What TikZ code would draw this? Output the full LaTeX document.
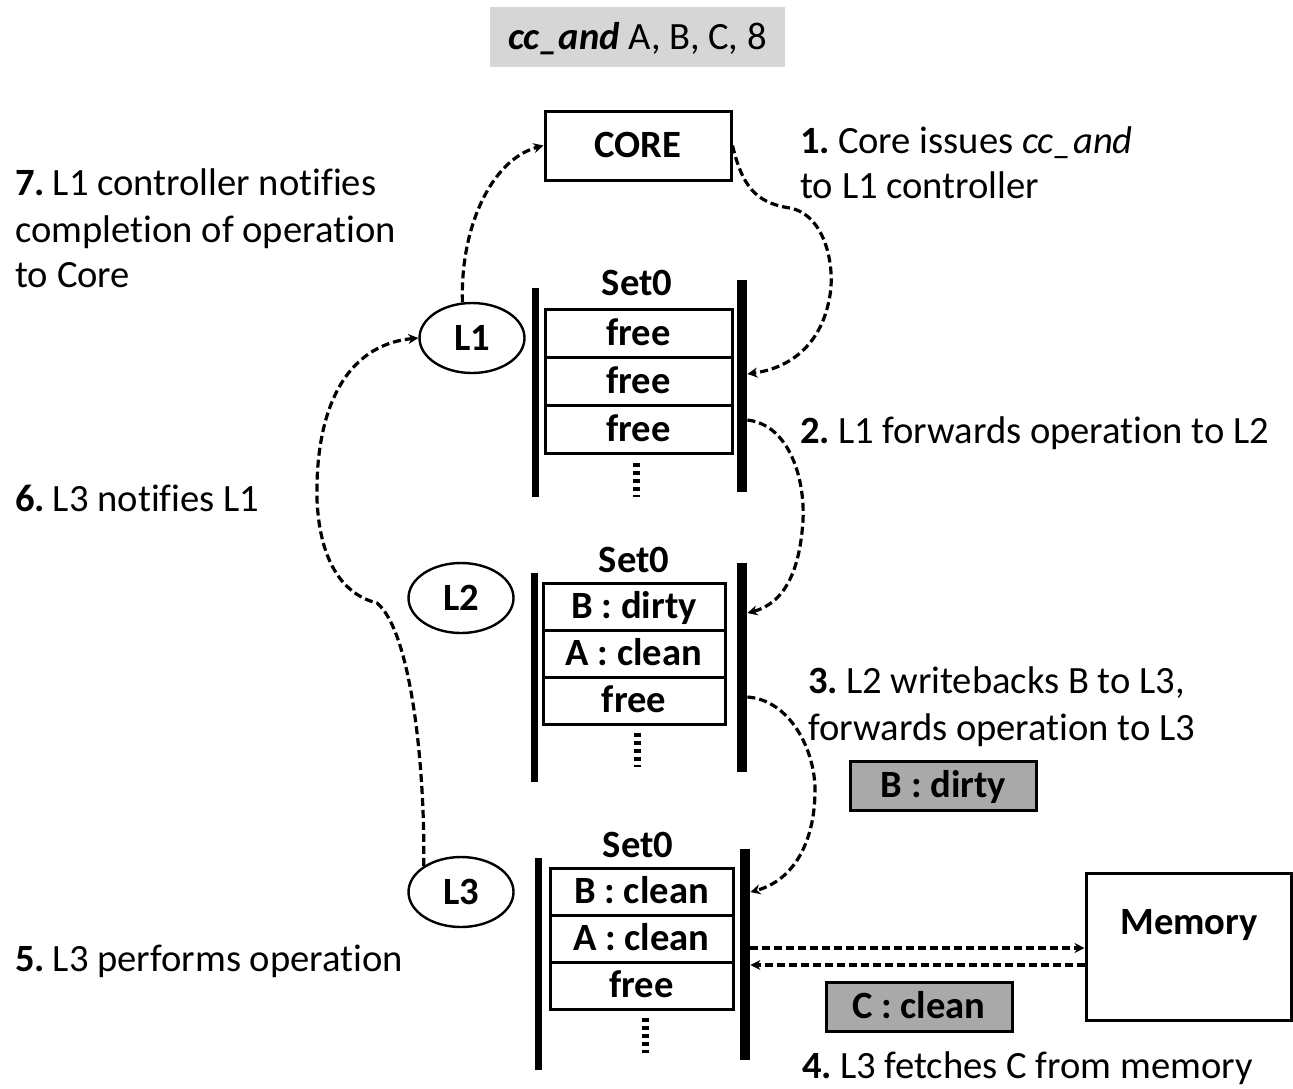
\documentclass[tikz,border=0pt]{standalone}
\usepackage{fontspec}
\setmainfont{Carlito}[Ligatures=NoCommon]
\usetikzlibrary{shapes.geometric,arrows.meta}

\definecolor{cmdgray}{HTML}{D6D6D6}
\definecolor{taggray}{HTML}{A9A9A9}
\newcommand\figfont{\fontsize{19.3}{23}\selectfont}
\newcommand\stepno[1]{\textbf{#1}\hspace{0.2em}}

\begin{document}
\begin{tikzpicture}[x=0.5pt,y=-0.5pt,
  txt/.style={font=\figfont, inner sep=0, anchor=base west},
  lbl/.style={font=\figfont\bfseries, inner sep=0},
  cell/.style={draw, line width=1.5pt, inner sep=0, font=\figfont\bfseries,
    text height=14pt, text depth=2pt},
  bar/.style={fill=black, draw=none, inner sep=0, minimum width=#1},
  lvl/.style={ellipse, draw, line width=1.2pt, minimum width=52.5pt, minimum height=35pt,
    inner sep=0, font=\figfont\bfseries},
  flow/.style={line width=1.6pt, dash pattern=on 4pt off 2pt, -{Stealth[length=5pt,width=5pt]}},
  dots/.style={line width=3.5pt, dash pattern=on 2pt off 2pt},
  tag/.style={draw, line width=1.5pt, fill=taggray, inner sep=0,
    font=\figfont\bfseries, text height=14pt, text depth=2pt},
  box/.style={draw, line width=1.5pt, inner sep=0}
]
\useasboundingbox (0,0) rectangle (1293,1088);

% instruction banner
\node[fill=cmdgray, minimum width=147.5pt, minimum height=30pt, inner sep=0,
  font=\figfont, text height=14pt, text depth=2pt] (cmd) at (637.5,37) {\textbf{\textit{cc\_and}} A, B, C, 8};

% core
\node[box, minimum width=93pt, minimum height=34.5pt, font=\figfont\bfseries,
  text height=14pt, text depth=2pt] (core) at (638,145.5) {CORE};

% ---------------- L1 ----------------
\node[lvl] (l1) at (472,338) {L1};
\node[lbl, anchor=base] (l1set) at (637,295) {Set0};
\node[bar=3.5pt, minimum height=104.5pt] (l1L) at (535,392.5) {};
\node[bar=5pt, minimum height=106pt] (l1R) at (742,386) {};
\node[cell, minimum width=93.5pt, minimum height=24pt] (l1a) at (638.5,333) {free};
\node[cell, minimum width=93.5pt, minimum height=24pt] (l1b) at (638.5,381) {free};
\node[cell, minimum width=93.5pt, minimum height=24pt] (l1c) at (638.5,429) {free};
\coordinate (l1d0) at (636,463);
\coordinate (l1d1) at (636,497);
\draw[dots] (l1d0) -- (l1d1);

% ---------------- L2 ----------------
\node[lvl] (l2) at (461,598) {L2};
\node[lbl, anchor=base] (l2set) at (634,572) {Set0};
\node[bar=3.5pt, minimum height=104.5pt] (l2L) at (534,677.5) {};
\node[bar=5pt, minimum height=104.5pt] (l2R) at (742,667.5) {};
\node[cell, minimum width=91pt, minimum height=23.5pt] (l2a) at (634,606.5) {B : dirty};
\node[cell, minimum width=91pt, minimum height=23.5pt] (l2b) at (634,653.5) {A : clean};
\node[cell, minimum width=91pt, minimum height=23.5pt] (l2c) at (634,700.5) {free};
\coordinate (l2d0) at (637,733);
\coordinate (l2d1) at (637,767);
\draw[dots] (l2d0) -- (l2d1);

% ---------------- L3 ----------------
\node[lvl] (l3) at (461,892) {L3};
\node[lbl, anchor=base] (l3set) at (638,857) {Set0};
\node[bar=3.5pt, minimum height=106pt] (l3L) at (538,964) {};
\node[bar=5pt, minimum height=105.5pt] (l3R) at (745,954.5) {};
\node[cell, minimum width=91.5pt, minimum height=23.5pt] (l3a) at (641.5,891.5) {B : clean};
\node[cell, minimum width=91.5pt, minimum height=23.5pt] (l3b) at (641.5,938.5) {A : clean};
\node[cell, minimum width=91.5pt, minimum height=23.5pt] (l3c) at (641.5,985.5) {free};
\coordinate (l3d0) at (645,1018);
\coordinate (l3d1) at (645,1053);
\draw[dots] (l3d0) -- (l3d1);

% memory and transferred blocks
\node[box, minimum width=102.5pt, minimum height=73.5pt] (mem) at (1188.5,946.5) {};
\node[lbl] (memtxt) at (1189,925) {Memory};
\node[tag, minimum width=93pt, minimum height=24.5pt] (tagb) at (943.5,785.5) {B : dirty};
\node[tag, minimum width=93pt, minimum height=24.5pt] (tagc) at (919,1006.5) {C : clean};

% step descriptions
\node[txt] (s1a) at (800,153) {\stepno{1.}Core issues \textit{cc\_and}};
\node[txt] (s1b) at (800,198) {to L1 controller};
\node[txt] (s2) at (800,443) {\stepno{2.}L1 forwards operation to L2};
\node[txt] (s3a) at (808,693) {\stepno{3.}L2 writebacks B to L3,};
\node[txt] (s3b) at (808,740) {forwards operation to L3};
\node[txt] (s4) at (802,1078) {\stepno{4.}L3 fetches C from memory};
\node[txt] (s5) at (15,971) {\stepno{5.}L3 performs operation};
\node[txt] (s6) at (15,511) {\stepno{6.}L3 notifies L1};
\node[txt] (s7a) at (15,195) {\stepno{7.}L1 controller notifies};
\node[txt] (s7b) at (15,242) {completion of operation};
\node[txt] (s7c) at (15,287) {to Core};

% message flow
\draw[flow] (core.east) .. controls (742,185) and (755,203) .. (790,208)
  .. controls (825,215) and (835,265) .. (830,295)
  .. controls (822,345) and (790,368) .. (l1R.east |- 0,374);
\draw[flow] (l1R.east |- 0,420) .. controls (790,425) and (805,480) .. (803,520)
  .. controls (800,570) and (785,603) .. (l2R.east |- 0,613);
\draw[flow] (l2R.east |- 0,697) .. controls (790,700) and (815,750) .. (815,790)
  .. controls (815,840) and (795,880) .. (l3R.east |- 0,892);
\draw[flow] (l3R.east |- 0,948) -- (mem.west |- 0,948);
\draw[flow] (mem.west |- 0,965) -- (l3R.east |- 0,965);
\draw[flow] (l3.145) .. controls (425,760) and (410,630) .. (377,603)
  .. controls (345,595) and (320,565) .. (317,500)
  .. controls (315,410) and (345,345) .. (l1.west);
\draw[flow] (l1.105) .. controls (460,230) and (490,160) .. (core.west);
\end{tikzpicture}
\end{document}
